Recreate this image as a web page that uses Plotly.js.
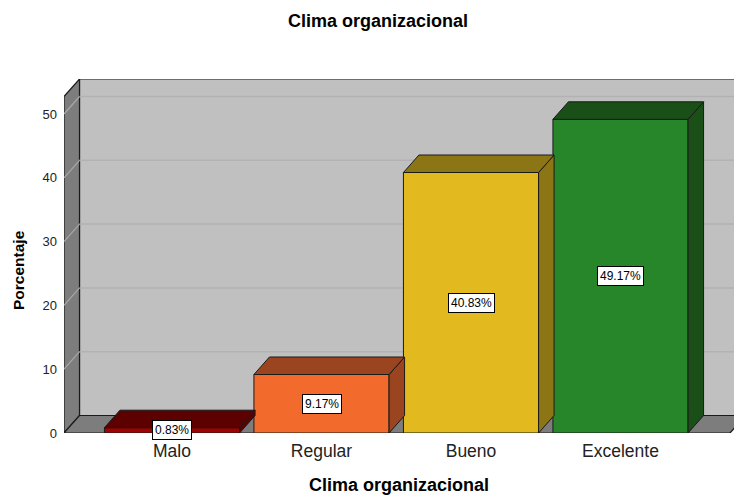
<!DOCTYPE html>
<html>
<head>
<meta charset="utf-8">
<script src="https://cdn.plot.ly/plotly-3.0.1.min.js"></script>
<style>html,body{margin:0;padding:0;background:#fff;}#chart{width:734px;height:495px;}</style>
</head>
<body>
<div id="chart"></div>
<script>
// ---- data ----
const categories = ['Malo', 'Regular', 'Bueno', 'Excelente'];
const values = [0.83, 9.17, 40.83, 49.17];
const valueLabels = ['0.83%', '9.17%', '40.83%', '49.17%'];
const yTickVals = [0, 10, 20, 30, 40, 50];
const chartTitle = 'Clima organizacional';
const xTitle = 'Clima organizacional';
const yTitle = 'Porcentaje';

// ---- styles ----
const frontColors = ['#a30000', '#f26a2c', '#e2ba20', '#28862a'];
const shadeColors = ['#5c0000', '#9a4420', '#8c7514', '#1a5018'];
const W = 734, H = 495;
const M = {l: 64, r: 0, t: 79, b: 62};
const pxPerX = 149.5, pxPerY = 6.38;
const x0px = 172; // pixel of first category
const plotW = W - M.l - M.r, plotH = H - M.t - M.b;
const xMin = (M.l - x0px) / pxPerX;
const xMax = xMin + plotW / pxPerX;
const yTop = plotH / pxPerY;
const DX = 15.5 / pxPerX, DY = 17.5 / pxPerY;
const halfW = 0.452;
const xFloorR = (730 - x0px) / pxPerX;
const edge = '#1a1a1a';
const FONT = 'Liberation Sans, Arial, sans-serif';

const xs = categories.map((c, i) => i);

// walls / floor as shapes in data coordinates
const shapes = [];
const P = (pts) => 'M' + pts.map(p => p[0] + ',' + p[1]).join(' L') + ' Z';
// back wall
shapes.push({type: 'path', xref: 'x', yref: 'y', layer: 'below',
  path: P([[xMin + DX, DY], [xMax + 1, DY], [xMax + 1, yTop], [xMin + DX, yTop]]),
  fillcolor: '#c0c0c0', line: {color: edge, width: 1.2}});
// left wall
shapes.push({type: 'path', xref: 'x', yref: 'y', layer: 'below',
  path: P([[xMin, 0], [xMin + DX, DY], [xMin + DX, yTop], [xMin, yTop - DY]]),
  fillcolor: '#7d7d7d', line: {color: edge, width: 1.2}});
// floor
shapes.push({type: 'path', xref: 'x', yref: 'y', layer: 'below',
  path: P([[xMin, 0], [xFloorR, 0], [xFloorR + DX, DY], [xMin + DX, DY]]),
  fillcolor: '#7d7d7d', line: {color: edge, width: 1.2}});
// gridlines on back wall + diagonals on left wall
yTickVals.forEach(v => {
  if (v === 0) return;
  shapes.push({type: 'line', xref: 'x', yref: 'y', layer: 'below',
    x0: xMin + DX, x1: xMax + 1, y0: v + DY, y1: v + DY,
    line: {color: '#b2b2b2', width: 1.5}});
  shapes.push({type: 'line', xref: 'x', yref: 'y', layer: 'below',
    x0: xMin, x1: xMin + DX, y0: v, y1: v + DY,
    line: {color: '#a8a8a8', width: 1.2}});
});

const traces = [];
// front faces as bars
traces.push({
  type: 'bar', x: xs, y: values, width: 2 * halfW,
  marker: {color: frontColors, line: {color: edge, width: 1}},
  hoverinfo: 'skip', showlegend: false
});
// top and side faces
values.forEach((v, i) => {
  const l = xs[i] - halfW, r = xs[i] + halfW;
  traces.push({type: 'scatter', mode: 'lines', fill: 'toself',
    x: [r, r + DX, r + DX, r, r], y: [0, DY, v + DY, v, 0],
    fillcolor: shadeColors[i], line: {color: edge, width: 1},
    hoverinfo: 'skip', showlegend: false});
  traces.push({type: 'scatter', mode: 'lines', fill: 'toself',
    x: [l, r, r + DX, l + DX, l], y: [v, v, v + DY, v + DY, v],
    fillcolor: shadeColors[i], line: {color: edge, width: 1},
    hoverinfo: 'skip', showlegend: false});
});

const annotations = values.map((v, i) => ({
  x: xs[i], y: v / 2, xref: 'x', yref: 'y', text: valueLabels[i], showarrow: false,
  bgcolor: '#ffffff', bordercolor: '#000000', borderwidth: 1, borderpad: 2,
  font: {family: FONT, size: 12, color: '#000'}
}));
// y-axis title (placed as rotated annotation to match vertical position)
annotations.push({
  xref: 'paper', yref: 'paper', x: (18 - M.l) / plotW, y: (H - M.b - 270) / plotH,
  xanchor: 'center', yanchor: 'middle', textangle: -90, showarrow: false,
  text: '<b>' + yTitle + '</b>', font: {family: FONT, size: 15.5, color: '#000'}
});

const layout = {
  width: W, height: H, margin: M,
  paper_bgcolor: '#ffffff', plot_bgcolor: '#ffffff',
  title: {text: chartTitle, x: 378 / W, xref: 'container', xanchor: 'center',
    y: 1 - 21 / H, yref: 'container', yanchor: 'middle',
    font: {family: FONT, size: 18, color: '#000', weight: 'bold'}},
  xaxis: {range: [xMin, xMax], tickvals: xs, ticktext: categories,
    showgrid: false, zeroline: false, showline: false, ticks: '', fixedrange: true,
    ticklabelstandoff: 5,
    tickfont: {family: FONT, size: 17.5, color: '#222'},
    title: {text: xTitle, standoff: 20,
      font: {family: FONT, size: 18, color: '#000', weight: 'bold'}}},
  yaxis: {range: [0, yTop], tickvals: yTickVals,
    showgrid: false, zeroline: false, showline: false, ticks: '', fixedrange: true,
    ticklabelstandoff: 6,
    tickfont: {family: FONT, size: 13, color: '#222'}},
  shapes: shapes,
  annotations: annotations,
  bargap: 0
};

Plotly.newPlot('chart', traces, layout, {displayModeBar: false, staticPlot: true});
</script>
</body>
</html>
